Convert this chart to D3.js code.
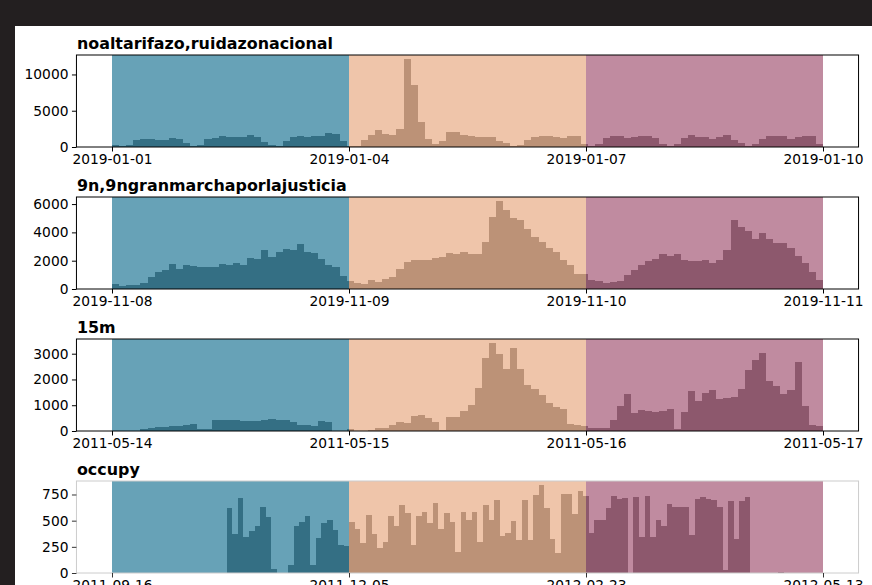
<!DOCTYPE html>
<html><head><meta charset="utf-8">
<script src="https://cdn.jsdelivr.net/npm/d3@7"></script>
<style>body{margin:0;background:#231f20;} svg{display:block;}</style>
</head><body><svg id="c" width="872" height="585"></svg>
<script>
// ---------- data ----------
const titles = ["noaltarifazo,ruidazonacional", "9n,9ngranmarchaporlajusticia", "15m", "occupy"];
const tickDates = [
  ["2019-01-01", "2019-01-04", "2019-01-07", "2019-01-10"],
  ["2019-11-08", "2019-11-09", "2019-11-10", "2019-11-11"],
  ["2011-05-14", "2011-05-15", "2011-05-16", "2011-05-17"],
  ["2011-09-16", "2011-12-05", "2012-02-23", "2012-05-13"]
];
const yTickValues = [
  [0, 5000, 10000],
  [0, 2000, 4000, 6000],
  [0, 1000, 2000, 3000],
  [0, 250, 500, 750]
];
// histogram bin ranges (start, end); null = from first to last tick
const binRanges = [null, null, null, ["2011-10-24T17:17:00Z", "2012-04-29T19:12:00Z"]];

const noaltarifazoCounts = [280,140,280,970,1110,1100,970,970,1250,1150,600,140,280,1060,1200,1570,1390,1390,1390,1670,1430,700,280,90,880,1430,1530,1390,1530,1530,1940,1800,880,190,
 90,970,1620,2360,1800,1670,2500,12080,8610,3430,1110,420,830,2080,2080,1670,1530,1430,1390,1390,880,510,90,280,970,1430,1530,1530,1390,1300,1530,1530,
 370,190,420,1300,1530,1530,1300,1390,1530,1530,1300,420,140,420,1300,1670,1430,1340,1060,1430,1670,970,510,190,420,1160,1530,1530,1530,1110,1390,1530,1530,420];
const granmarchaCounts = [330,235,305,305,450,820,1200,1320,1740,1390,1670,1600,1530,1530,1530,1740,1670,1810,1670,2160,2090,2730,2240,2590,2800,2730,3150,2590,2520,2090,1670,1530,890,560,
 400,330,610,470,680,820,1390,1880,2020,2020,2020,2160,2240,2520,2450,2590,2450,2450,3290,5060,6190,5550,4990,4850,4210,3650,3290,2870,2590,2020,1670,1040,
 1040,610,540,400,470,540,960,1320,1670,1950,2090,2450,2300,2450,2020,1950,1950,2020,1810,2020,2730,4850,4350,4070,3510,3930,3510,3220,3220,2870,2300,1810,1180,610];
const m15Counts = [0,0,0,0,65,100,155,155,195,195,230,270,75,75,425,425,425,410,400,385,385,425,465,440,425,350,245,245,205,385,360,0,0,60,
 15,10,25,100,100,230,350,310,580,620,500,350,25,540,540,770,1000,1660,2820,3400,2970,2390,3240,2390,1780,1620,1390,1080,930,850,270,230,
 195,100,130,130,430,970,1430,700,810,770,735,770,850,75,735,1540,1160,1470,1580,1250,1290,1330,1640,2370,2750,3030,1940,1750,1440,1600,2680,980,245,205];
const occupyCounts = [625,372,713,347,397,445,634,539,41,0,0,79,445,483,546,79,331,473,505,410,271,255,
 489,423,287,554,368,238,293,547,450,645,570,267,544,586,479,668,417,577,489,205,586,511,586,293,651,511,694,352,384,498,316,700,316,743,837,619,326,195,759,759,564,782,733,
 381,505,510,625,733,707,713,0,726,342,733,342,511,450,658,635,635,629,365,707,723,707,694,635,33,684,326,684,723,0,0,0,0,0,7];
const seriesCounts = [noaltarifazoCounts, granmarchaCounts, m15Counts, occupyCounts];

// band colours (drawn translucent over the bars)
const bandColors = ["#026487", "#e49e71", "#963e61"];

// ---------- drawing ----------
const svg = d3.select("#c");
svg.append("rect").attr("x", 15).attr("y", 26).attr("width", 872 - 15).attr("height", 585 - 26).attr("fill", "#fff");

const left = 76.45, right = 858.55, top0 = 55, panelStep = 142, ph = 92;
const parse = d3.utcParse("%Y-%m-%d");
const fmt = d3.utcFormat("%Y-%m-%d");
const font = "DejaVu Sans, sans-serif";
const tickFont = 13.8, titleFont = 15.9;

titles.forEach((title, p) => {
  const top = top0 + p * panelStep, bottom = top + ph;
  const ticks = tickDates[p].map(parse);
  const t0 = +ticks[0], t3 = +ticks[3], span = t3 - t0;
  const x = d3.scaleUtc().domain([new Date(t0 - 0.05 * span), new Date(t3 + 0.05 * span)]).range([left, right]);
  const counts = seriesCounts[p];
  const maxV = d3.max(counts);
  const y = d3.scaleLinear().domain([0, maxV * 1.05]).range([bottom, top]);

  let bs, be;
  if (binRanges[p]) { bs = +new Date(binRanges[p][0]); be = +new Date(binRanges[p][1]); }
  else { bs = t0; be = t3; }
  const bw = (be - bs) / counts.length;
  const bins = counts.map((v, i) => ({ x0: new Date(bs + i * bw), x1: new Date(bs + (i + 1) * bw), v }));

  const g = svg.append("g");
  const gray = p === 3;

  // bars (grey, under translucent bands)
  g.selectAll("rect.bar").data(bins).join("rect").attr("class", "bar")
    .attr("x", d => x(d.x0)).attr("width", d => Math.max(0, x(d.x1) - x(d.x0)))
    .attr("y", d => y(d.v)).attr("height", d => bottom - y(d.v))
    .attr("fill", "#7f7f7f").attr("shape-rendering", "crispEdges");

  // bands
  const bands = [0, 1, 2].map(i => ({ a: ticks[i], b: ticks[i + 1], c: bandColors[i] }));
  g.selectAll("rect.band").data(bands).join("rect").attr("class", "band")
    .attr("x", d => x(d.a)).attr("width", d => x(d.b) - x(d.a))
    .attr("y", top).attr("height", ph)
    .attr("fill", d => d.c).attr("fill-opacity", 0.6);

  // frame
  g.append("rect").attr("x", left).attr("y", top).attr("width", right - left).attr("height", ph)
    .attr("fill", "none").attr("stroke", gray ? "#cccccc" : "#000").attr("stroke-width", 1);

  // x axis
  const xa = d3.axisBottom(x).tickValues(ticks).tickFormat(fmt).tickSize(4.5).tickPadding(3);
  const gx = g.append("g").attr("transform", `translate(0,${bottom})`).call(xa);
  gx.select(".domain").remove();
  gx.selectAll("line").attr("stroke", gray ? "#333" : "#000");
  gx.selectAll("text").attr("font-family", font).attr("font-size", tickFont).attr("fill", "#000");

  // y axis
  const ya = d3.axisLeft(y).tickValues(yTickValues[p]).tickFormat(d3.format("d")).tickSize(4.5).tickPadding(3.5);
  const gy = g.append("g").attr("transform", `translate(${left},0)`).call(ya);
  gy.select(".domain").remove();
  gy.selectAll("line").attr("stroke", gray ? "#333" : "#000");
  gy.selectAll("text").attr("font-family", font).attr("font-size", tickFont).attr("fill", "#000");

  // title
  g.append("text").attr("x", left + 0.5).attr("y", top - 6)
    .attr("font-family", font).attr("font-weight", "bold").attr("font-size", titleFont)
    .attr("fill", "#000").text(title);
});
</script>
</body></html>
